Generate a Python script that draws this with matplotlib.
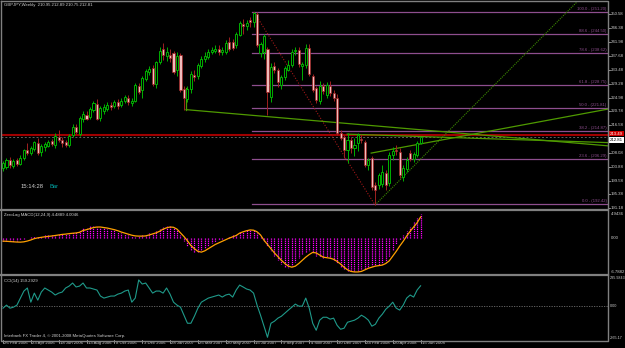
import matplotlib
matplotlib.use("Agg")
import matplotlib.pyplot as plt
import numpy as np

# ---- weekly GBPJPY candles (26 Feb 2006 .. 15 Jun 2008) ----
opens = [203.4, 203.8, 205.8, 204.0, 205.8, 204.8, 206.5, 208.8, 208.0, 209.2,
         211.0, 208.2, 209.8, 210.3, 211.6, 210.4, 213.0, 212.0, 211.4, 210.5,
         213.4, 216.0, 213.8, 218.4, 219.8, 219.0, 221.3, 223.0, 218.6, 220.8,
         221.4, 222.8, 222.3, 223.6, 222.6, 223.8, 225.0, 223.2, 224.0, 228.6,
         227.3, 230.8, 232.8, 234.0, 229.0, 235.8, 239.8, 237.6, 238.0, 238.5,
         233.3, 238.0, 227.5, 224.5, 227.6, 232.0, 231.5, 234.8, 236.8, 237.5,
         239.0, 239.3, 240.0, 238.9, 239.0, 241.9, 242.0, 241.0, 244.3, 247.6,
         246.8, 248.6, 248.0, 250.5, 238.5, 239.0, 240.0, 225.2, 234.8, 233.4,
         228.8, 231.3, 233.5, 235.0, 239.2, 239.6, 234.6, 235.0, 240.2, 231.5,
         227.8, 224.0, 228.4, 225.8, 228.5, 226.4, 224.9, 214.1, 212.8, 208.9,
         212.0, 209.7, 211.0, 212.3, 211.3, 204.3, 206.5, 198.2, 198.2, 198.5,
         201.8, 198.8, 207.4, 208.9, 208.3, 200.6, 203.0, 208.0, 206.2, 207.5,
         210.95]
highs = [205.6, 206.5, 206.8, 206.2, 206.5, 207.3, 209.3, 211.0, 210.2, 211.8,
         212.5, 210.8, 211.4, 212.0, 212.2, 214.0, 215.0, 213.0, 212.0, 213.8,
         216.8, 216.8, 219.3, 220.8, 221.0, 222.2, 224.0, 224.5, 222.4, 223.0,
         223.5, 223.6, 224.4, 224.6, 224.8, 225.9, 225.7, 224.8, 229.5, 229.6,
         231.6, 233.8, 234.6, 235.0, 236.3, 240.4, 241.7, 240.5, 240.0, 239.3,
         238.9, 238.6, 228.6, 228.4, 233.0, 233.5, 235.5, 237.6, 238.8, 240.0,
         240.5, 241.0, 241.0, 240.5, 242.5, 243.5, 243.0, 245.0, 248.5, 249.0,
         248.6, 249.8, 251.3, 251.2, 242.0, 244.6, 240.5, 235.5, 236.0, 234.0,
         232.0, 234.8, 236.5, 239.8, 240.5, 240.4, 236.0, 241.4, 241.3, 232.3,
         228.5, 230.0, 229.6, 229.7, 230.0, 227.2, 226.0, 215.2, 213.6, 214.1,
         213.0, 212.5, 214.2, 213.8, 212.0, 206.5, 207.0, 199.0, 202.0, 204.5,
         202.8, 208.2, 210.0, 210.5, 209.5, 204.2, 206.8, 209.0, 208.4, 211.6,
         212.89]
lows = [202.5, 203.2, 203.5, 203.3, 204.0, 204.2, 206.0, 207.3, 207.5, 208.6,
        207.5, 207.2, 208.5, 209.8, 210.2, 209.7, 211.3, 210.0, 209.8, 210.0,
        212.8, 213.8, 213.2, 217.5, 218.0, 218.3, 220.5, 218.0, 217.8, 220.0,
        220.8, 221.3, 221.8, 221.6, 222.0, 223.2, 222.8, 222.4, 223.5, 226.0,
        225.0, 230.0, 232.0, 228.5, 228.0, 235.2, 236.6, 236.2, 236.0, 232.3,
        231.5, 226.8, 221.3, 223.5, 226.5, 230.0, 230.8, 234.2, 236.0, 236.8,
        238.2, 238.5, 238.0, 238.0, 238.4, 239.3, 239.5, 240.3, 243.8, 244.5,
        245.8, 246.5, 246.5, 240.5, 237.5, 236.8, 219.8, 223.5, 232.5, 228.3,
        227.5, 230.5, 233.0, 234.4, 238.0, 234.5, 230.5, 234.0, 231.6, 226.6,
        223.4, 223.0, 226.0, 225.0, 225.5, 224.0, 213.5, 212.0, 206.5, 205.0,
        208.0, 207.0, 208.7, 211.0, 203.8, 202.7, 196.8, 192.1, 197.0, 197.6,
        196.8, 198.0, 206.0, 207.5, 200.5, 199.5, 202.3, 205.5, 205.2, 206.8,
        210.75]
closes = [205.0, 205.9, 204.3, 205.5, 204.6, 206.6, 208.8, 207.9, 209.5, 211.3,
          208.0, 210.2, 210.8, 211.4, 210.8, 213.3, 212.0, 211.2, 210.5, 213.2,
          216.0, 214.4, 218.7, 220.0, 218.5, 221.6, 223.3, 218.5, 221.8, 222.1,
          222.8, 222.0, 223.7, 222.3, 224.0, 225.2, 223.5, 224.0, 228.8, 226.6,
          230.9, 233.0, 233.8, 229.0, 235.8, 239.3, 238.0, 239.0, 237.0, 232.8,
          237.8, 227.4, 224.8, 227.6, 232.3, 231.4, 234.9, 236.8, 237.8, 239.0,
          239.5, 240.0, 238.8, 239.6, 241.8, 240.0, 240.3, 244.5, 247.7, 247.0,
          247.8, 248.0, 251.0, 241.1, 241.3, 243.8, 226.6, 234.4, 233.4, 229.8,
          231.3, 234.1, 235.0, 238.9, 239.5, 235.3, 235.2, 240.2, 232.3, 227.4,
          224.2, 228.6, 227.0, 228.8, 226.4, 224.8, 214.1, 212.7, 208.9, 212.0,
          209.5, 210.6, 213.6, 212.0, 204.4, 205.9, 197.6, 196.7, 201.3, 202.3,
          198.2, 207.4, 208.5, 208.6, 201.3, 203.4, 205.9, 206.2, 207.8, 211.0,
          212.81]

# ZeroLag MACD(12,24,9): histogram and signal
macd_hist = [-0.6, -0.7, -0.8, -0.75, -0.6, -0.4, -0.1, 0.1, 0.25, 0.35,
             0.3, 0.4, 0.5, 0.55, 0.6, 0.75, 0.85, 0.8, 0.8, 0.95,
             1.1, 1.1, 1.5, 1.9, 2.0, 2.2, 2.3, 2.1, 2.0, 1.9,
             1.75, 1.6, 1.45, 1.2, 1.0, 0.85, 0.6, 0.4, 0.3, 0.35,
             0.5, 0.7, 0.9, 1.0, 1.3, 1.7, 2.1, 2.3, 2.3, 2.0,
             1.5, 0.5, -0.6, -1.5, -2.3, -2.65, -2.6, -2.3, -1.8, -1.4,
             -1.0, -0.7, -0.4, -0.2, 0.1, 0.3, 0.5, 0.8, 1.2, 1.4,
             1.5, 1.5, 1.55, 1.0, 0.3, -0.6, -1.5, -2.5, -3.4, -4.2,
             -4.9, -5.4, -5.6, -5.2, -4.6, -3.8, -3.0, -2.6, -2.5, -2.8,
             -3.4, -3.6, -3.7, -3.6, -3.7, -4.2, -4.8, -5.4, -5.9, -6.2,
             -6.4, -6.5, -6.3, -6.1, -5.8, -5.4, -5.3, -5.1, -5.0, -4.9,
             -4.6, -3.5, -2.3, -1.2, -0.4, 0.6, 1.3, 2.1, 3.0, 3.8,
             4.4889]
macd_signal = [-0.57, -0.6, -0.65, -0.7, -0.74, -0.76, -0.7, -0.55, -0.35, -0.1,
               0.05, 0.15, 0.25, 0.33, 0.4, 0.5, 0.6, 0.7, 0.76, 0.85,
               0.92, 0.98, 1.1, 1.45, 1.6, 1.8, 2.0, 2.1, 2.1, 2.0,
               1.9, 1.75, 1.6, 1.4, 1.15, 0.95, 0.75, 0.55, 0.42, 0.38,
               0.38, 0.42, 0.6, 0.8, 1.0, 1.3, 1.7, 1.95, 2.1, 2.05,
               1.7, 1.0, 0.3, -0.5, -1.4, -2.0, -2.5, -2.65, -2.4, -2.0,
               -1.6, -1.2, -0.9, -0.6, -0.3, 0.0, 0.25, 0.5, 0.95, 1.2,
               1.4, 1.55, 1.5, 1.2, 0.6, -0.4, -1.2, -2.0, -2.8, -3.5,
               -4.2, -4.8, -5.3, -5.5, -5.3, -4.8, -4.2, -3.6, -3.1, -2.7,
               -2.8, -3.2, -3.6, -3.7, -3.8, -4.0, -4.4, -4.9, -5.5, -6.0,
               -6.3, -6.4, -6.4, -6.3, -6.0, -5.7, -5.5, -5.3, -5.2, -5.1,
               -4.8, -4.3, -3.4, -2.5, -1.5, -0.6, 0.4, 1.3, 2.1, 2.9,
               4.0046]

# CCI(14)
cci = [-16, 8, -16, -8, 8, 63, 118, 142, 31, 102,
       47, 110, 142, 126, 110, 87, 102, 110, 142, 157,
       181, 150, 157, 181, 142, 142, 134, 126, 79, 63,
       71, 79, 79, 94, 102, 118, 126, 31, 63, 205,
       173, 181, 142, 102, 118, 118, 102, 142, 94, 31,
       8, -8, -71, -134, -134, -79, -16, 31, 47, 63,
       71, 79, 87, 71, 87, 94, 71, 126, 165, 150,
       134, 126, 102, 8, -71, -157, -244, -134, -118, -94,
       -79, -55, -31, -8, 16, 0, 0, 63, -16, -134,
       -189, -110, -87, -87, -102, -94, -150, -181, -173, -126,
       -118, -110, -94, -71, -87, -110, -157, -142, -94, -63,
       -24, 0, 31, -16, -31, 8, 63, 87, 71, 126,
       159.29]

date_labels = ["26 Feb 2006", "23 Apr 2006", "18 Jun 2006", "13 Aug 2006",
               "8 Oct 2006", "3 Dec 2006", "28 Jan 2007", "25 Mar 2007",
               "20 May 2007", "15 Jul 2007", "9 Sep 2007", "4 Nov 2007",
               "30 Dec 2007", "24 Feb 2008", "20 Apr 2008", "15 Jun 2008"]

price_ticks = [250.58, 246.38, 241.98, 237.68, 233.48, 229.28, 224.98,
               220.78, 216.58, 208.08, 203.88, 199.58, 195.38, 191.18]

# Fibonacci retracement (peak Jul 2007 -> low Mar 2008)
fib_high = 251.20
fib_low = 192.42
fib_levels = [0.0, 23.6, 38.2, 50.0, 61.8, 78.6, 88.6, 100.0]
fib_start = 71.6
fib_diag = [(72.1, 251.2), (106.9, 192.1)]

# hand-drawn trendlines (bar index, price)
trend_a = [(52.6, 221.3), (174.0, 210.2)]
trend_a_stub = [(52.6, 227.9), (52.6, 221.3)]
trend_b = [(98.9, 213.8), (174.0, 211.2)]
trend_c = [(105.8, 208.0), (174.0, 221.5)]
trend_d = [(106.9, 192.1), (170.0, 259.7)]
hline_red = 213.49
bid = 212.81

W, H = 625, 348
R = 608          # right edge of the chart panels, px
BG = "black"
GRID = "#808080"
TXT = "#d0d0d0"
BULL = "#00b000"
BEAR_FACE = "#f0bcbc"
BEAR_EDGE = "#a02020"
FIB = "#8e4e8e"
TREND = "#4f9a00"
FS = 3.1

plt.rcParams["font.family"] = ["Liberation Sans", "DejaVu Sans"]


def rect(x0, y0, x1, y1):
    return [x0 / W, 1 - y1 / H, (x1 - x0) / W, (y1 - y0) / H]


def main():
    n = len(closes)
    idx = np.arange(n)
    xlim = ((1 - 3) / 3.48, (R - 3) / 3.48)

    fig = plt.figure(figsize=(W / 100, H / 100), dpi=100, facecolor=BG)
    ax = fig.add_axes(rect(1, 2, R, 208.5))
    ax_m = fig.add_axes(rect(1, 212, R, 274))
    ax_c = fig.add_axes(rect(1, 276, R, 340))
    for a in (ax, ax_m, ax_c):
        a.set_facecolor(BG)
        a.set_xlim(*xlim)
        a.set_xticks([])
        a.set_yticks([])
        for s in a.spines.values():
            s.set_visible(False)
    ax.set_ylim(191.03, 254.26)
    ax_m.set_ylim(-6.7882, 4.9436)
    ax_c.set_ylim(-265.17, 235.98)

    # frame and panel separators
    fig.add_artist(plt.Line2D([1 / W, R / W, R / W, 1 / W, 1 / W],
                              [1 - 1 / H, 1 - 1 / H, 1 - 341 / H, 1 - 341 / H, 1 - 1 / H],
                              color=GRID, lw=1.0))
    for yy in (210.2, 275.2):
        fig.add_artist(plt.Line2D([1 / W, R / W], [1 - yy / H] * 2,
                                  color=GRID, lw=1.6))

    # fibonacci
    for lv in fib_levels:
        p = fib_low + (fib_high - fib_low) * lv / 100
        ax.plot([fib_start, xlim[1]], [p, p], color=FIB, lw=0.9, zorder=1)
        ax.text(xlim[1] - 0.4, p + 0.3, f"{lv:.1f} - ({p:.2f})", color=FIB,
                fontsize=FS, ha="right", va="bottom")
    ax.plot(*zip(*fib_diag), color="#a01818", lw=0.8, ls=(0, (1, 1.5)), zorder=2)

    # horizontal lines
    ax.axhline(hline_red, color="#a00000", lw=1.5, zorder=1)
    ax.axhline(bid, color="#606060", lw=0.7, ls=(0, (2, 2)), zorder=1)

    # trendlines
    for seg in (trend_a, trend_a_stub, trend_b, trend_c):
        ax.plot(*zip(*seg), color=TREND, lw=0.9, zorder=2)
    ax.plot(*zip(*trend_d), color="#3c8a00", lw=0.8, ls=(0, (1, 1)), zorder=2)

    # candles
    o = np.array(opens)
    c = np.array(closes)
    hi = np.array(highs)
    lo = np.array(lows)
    up = c >= o
    ax.vlines(idx[up], lo[up], hi[up], color=BULL, lw=0.7, zorder=3)
    ax.vlines(idx[~up], lo[~up], hi[~up], color=BEAR_EDGE, lw=0.7, zorder=3)
    body = np.maximum(np.abs(c - o), 0.25)
    ax.bar(idx[up], body[up], bottom=o[up], width=0.6, facecolor="black",
           edgecolor=BULL, lw=0.7, zorder=4)
    ax.bar(idx[~up], body[~up], bottom=c[~up], width=0.6, facecolor=BEAR_FACE,
           edgecolor=BEAR_EDGE, lw=0.5, zorder=4)

    # price axis
    yt = ax.get_yaxis_transform()
    for v in price_ticks:
        ax.plot([1.0, 1.003], [v, v], color=TXT, lw=0.5, transform=yt, clip_on=False)
        ax.text(1.005, v, f"{v:.2f}", color=TXT, fontsize=FS, va="center",
                transform=yt)
    ax.text(1.003, hline_red + 0.5, f"{hline_red:.2f}", color="white", fontsize=FS,
            va="center", transform=yt,
            bbox=dict(facecolor="#d00000", edgecolor="none", pad=0.5))
    ax.text(1.003, bid - 0.8, f"{bid:.2f}", color="black", fontsize=FS,
            va="center", transform=yt,
            bbox=dict(facecolor="white", edgecolor="none", pad=0.5))

    fig.text(4 / W, 1 - 5 / H, "GBPJPY,Weekly  210.95 212.89 210.75 212.81",
             color=TXT, fontsize=FS, va="center")
    fig.text(21 / W, 1 - 187 / H, "15:14:28", color=TXT, fontsize=4.2, va="center")
    fig.text(49 / W, 1 - 187 / H, "Bar", color="#00a8a8", fontsize=4.2, va="center")

    # MACD panel
    ax_m.vlines(idx, 0, macd_hist, color="#ff00ff", lw=0.9, ls=(0, (1, 0.7)), zorder=2)
    ax_m.plot(idx, macd_signal, color="#ffa000", lw=0.9, zorder=3)
    myt = ax_m.get_yaxis_transform()
    for v, s, va in ((4.9436, "4.9436", "top"), (0.0, "0.00", "center"),
                     (-6.7882, "-6.7882", "bottom")):
        ax_m.text(1.004, v, s, color=TXT, fontsize=FS, va=va, transform=myt)
    fig.text(4 / W, 1 - 215 / H, "ZeroLag MACD(12,24,9) 4.4889 4.0046",
             color=TXT, fontsize=FS, va="center")

    # CCI panel
    ax_c.axhline(0, color="#707070", lw=0.6, ls=(0, (1.5, 1.5)))
    ax_c.plot(idx, cci, color="#1f9a8a", lw=0.8)
    cyt = ax_c.get_yaxis_transform()
    for v, s, va in ((235.98, "235.9843", "top"), (0.0, "0.00", "center"),
                     (-265.17, "-265.17", "bottom")):
        ax_c.text(1.003, v, s, color=TXT, fontsize=2.7, va=va, transform=cyt)
    fig.text(4 / W, 1 - 281 / H, "CCI(14) 159.2929", color=TXT, fontsize=FS,
             va="center")
    fig.text(4 / W, 1 - 336 / H,
             "Interbank FX Trader 4, \u00a9 2001-2008 MetaQuotes Software Corp.",
             color=TXT, fontsize=FS, va="center")

    # date axis
    xt = ax_c.get_xaxis_transform()
    for k, lab in enumerate(date_labels):
        xi = k * 8
        ax_c.plot([xi, xi], [-0.005, -0.045], color=TXT, lw=0.5, transform=xt,
                  clip_on=False)
        ax_c.text(xi + 0.4, -0.02, lab, color=TXT, fontsize=FS, va="top",
                  transform=xt)

    fig.savefig("out.png", dpi=100, facecolor=BG)


if __name__ == "__main__":
    main()
